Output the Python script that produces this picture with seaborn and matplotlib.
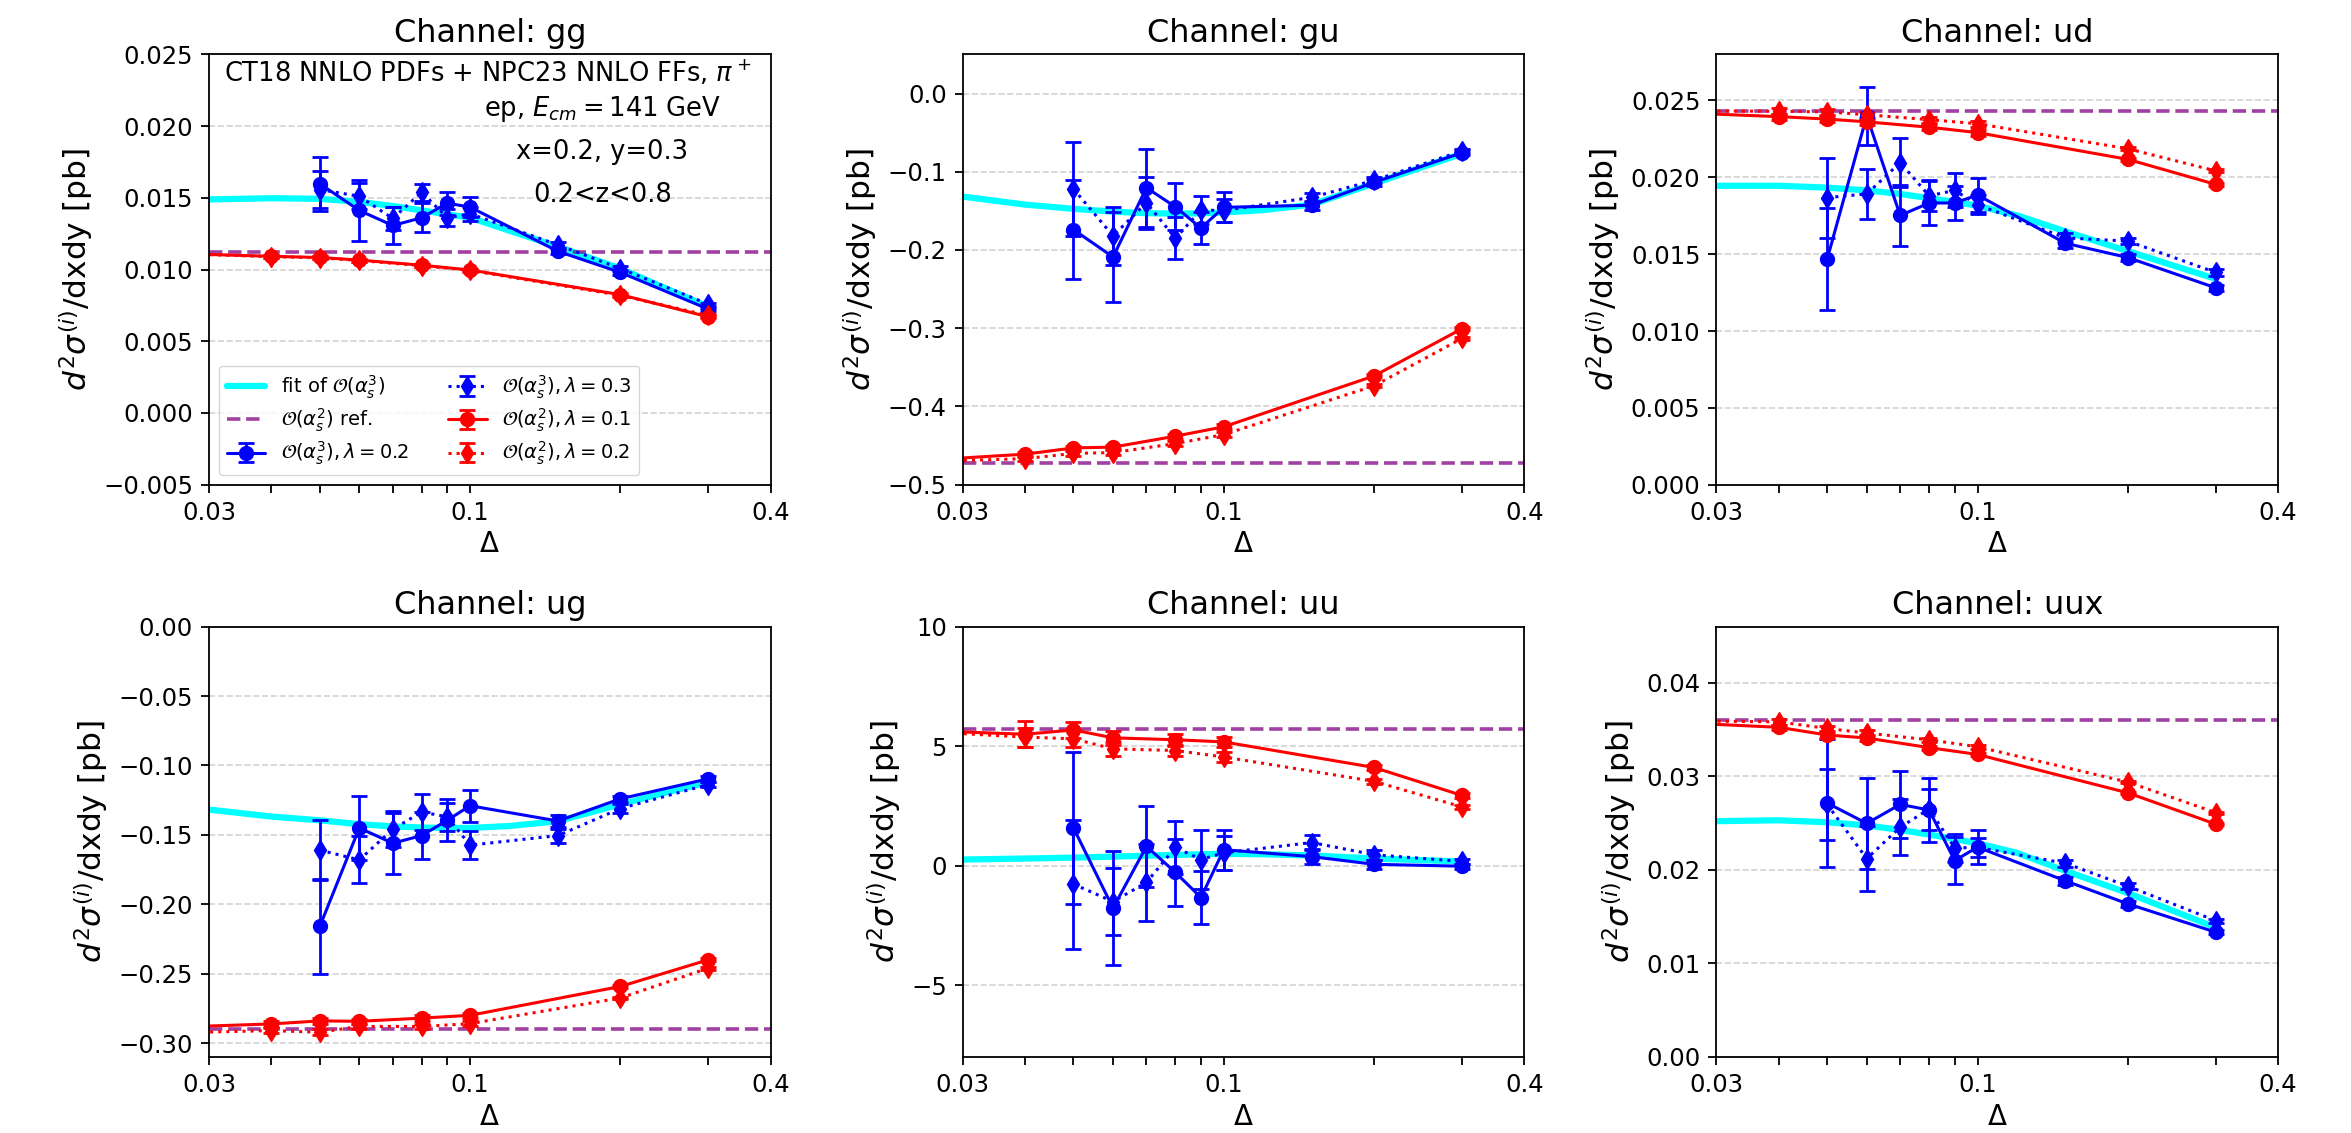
import matplotlib
matplotlib.use('Agg')
import matplotlib.pyplot as plt
from matplotlib.ticker import FixedLocator, FixedFormatter, LogLocator, NullFormatter, MultipleLocator
import seaborn as sns

sns.set_style('ticks')
plt.rcParams['font.family'] = 'DejaVu Sans'
plt.rcParams['mathtext.fontset'] = 'dejavusans'
plt.rcParams['axes.edgecolor'] = 'black'
plt.rcParams['axes.linewidth'] = 1.3
plt.rcParams['xtick.color'] = 'black'
plt.rcParams['ytick.color'] = 'black'
plt.rcParams['text.color'] = 'black'
plt.rcParams['axes.labelcolor'] = 'black'

channels = ['gg', 'gu', 'ud', 'ug', 'uu', 'uux']

# slicing parameter values
delta_nlo = [0.05, 0.06, 0.07, 0.08, 0.09, 0.1, 0.15, 0.2, 0.3]
delta_lo = [0.02, 0.04, 0.05, 0.06, 0.08, 0.1, 0.2, 0.3]
delta_fit = [0.03, 0.04, 0.05, 0.06, 0.07, 0.08, 0.09, 0.1, 0.12, 0.15, 0.2, 0.25, 0.3]

# O(as^2) reference per channel
ref = {'gg': 0.01123, 'gu': -0.4726, 'ud': 0.02433, 'ug': -0.2898, 'uu': 5.73, 'uux': 0.0360}

# O(as^3), lambda = 0.2
a3_l02 = {
    'gg': [0.01598, 0.01412, 0.01307, 0.01361, 0.01463, 0.01435, 0.01127, 0.0098, 0.00724],
    'gu': [-0.174, -0.209, -0.1204, -0.145, -0.172, -0.1455, -0.1428, -0.1136, -0.0757],
    'ud': [0.01469, 0.0240, 0.01752, 0.01833, 0.01833, 0.01885, 0.01571, 0.01478, 0.01281],
    'ug': [-0.216, -0.145, -0.156, -0.1505, -0.1395, -0.129, -0.140, -0.124, -0.1096],
    'uu': [1.58, -1.77, 0.81, -0.28, -1.33, 0.67, 0.38, 0.06, -0.02],
    'uux': [0.02714, 0.02497, 0.0270, 0.0264, 0.0210, 0.02243, 0.01883, 0.01637, 0.01334],
}
a3_l02_err = {
    'gg': [0.0019, 0.0021, 0.0013, 0.0010, 0.0008, 0.0007, 0.0002, 0.0002, 0.0001],
    'gu': [0.063, 0.058, 0.050, 0.030, 0.021, 0.019, 0.006, 0.004, 0.003],
    'ud': [0.0033, 0.0019, 0.0020, 0.0014, 0.0011, 0.0011, 0.0003, 0.0002, 0.0002],
    'ug': [0.034, 0.023, 0.022, 0.017, 0.015, 0.0115, 0.004, 0.002, 0.002],
    'uu': [3.17, 2.4, 1.7, 1.4, 1.1, 0.84, 0.3, 0.2, 0.1],
    'uux': [0.0068, 0.0049, 0.0036, 0.0034, 0.0025, 0.0018, 0.0004, 0.0003, 0.0002],
}

# O(as^3), lambda = 0.3
a3_l03 = {
    'gg': [0.01557, 0.01511, 0.01356, 0.01539, 0.01361, 0.01389, 0.01172, 0.01007, 0.00759],
    'gu': [-0.122, -0.182, -0.1396, -0.185, -0.149, -0.1496, -0.1328, -0.111, -0.0734],
    'ud': [0.01868, 0.01892, 0.02096, 0.0188, 0.01915, 0.01822, 0.01606, 0.01585, 0.01381],
    'ug': [-0.161, -0.168, -0.146, -0.1335, -0.137, -0.1574, -0.1505, -0.131, -0.1137],
    'uu': [-0.77, -1.5, -0.70, 0.77, 0.26, 0.54, 0.97, 0.46, 0.18],
    'uux': [0.0270, 0.0212, 0.02456, 0.0265, 0.02235, 0.0224, 0.02071, 0.01826, 0.01457],
}
a3_l03_err = {
    'gg': [0.0013, 0.0009, 0.0008, 0.0006, 0.0006, 0.0005, 0.0002, 0.0002, 0.0001],
    'gu': [0.060, 0.037, 0.033, 0.027, 0.018, 0.015, 0.006, 0.004, 0.003],
    'ud': [0.0026, 0.0016, 0.0016, 0.0010, 0.0011, 0.0006, 0.0003, 0.0002, 0.0002],
    'ug': [0.0215, 0.017, 0.013, 0.013, 0.010, 0.010, 0.005, 0.003, 0.002],
    'uu': [2.7, 1.4, 1.6, 1.12, 1.23, 0.7, 0.3, 0.2, 0.1],
    'uux': [0.0038, 0.0035, 0.0030, 0.0022, 0.0015, 0.0010, 0.0004, 0.0003, 0.0002],
}

# O(as^2), lambda = 0.1
a2_l01 = {
    'gg': [0.01123, 0.01092, 0.01084, 0.01066, 0.01030, 0.00997, 0.00825, 0.0067],
    'gu': [-0.4726, -0.461, -0.453, -0.452, -0.438, -0.426, -0.361, -0.3006],
    'ud': [0.02433, 0.02395, 0.02379, 0.02361, 0.02326, 0.02291, 0.02117, 0.01954],
    'ug': [-0.2898, -0.2862, -0.284, -0.2843, -0.282, -0.280, -0.2592, -0.240],
    'uu': [5.73, 5.50, 5.68, 5.35, 5.27, 5.18, 4.11, 2.94],
    'uux': [0.0360, 0.03524, 0.03442, 0.0341, 0.03307, 0.03234, 0.02824, 0.02489],
}
a2_l01_err = {
    'gg': [0.0, 0.0001, 0.0001, 0.0001, 0.0001, 0.0001, 0.0001, 0.0001],
    'gu': [0.0, 0.003, 0.003, 0.003, 0.003, 0.003, 0.002, 0.002],
    'ud': [0.0, 0.0002, 0.0002, 0.0002, 0.0002, 0.0002, 0.0001, 0.0001],
    'ug': [0.0, 0.002, 0.002, 0.002, 0.002, 0.002, 0.001, 0.001],
    'uu': [0.0, 0.55, 0.35, 0.3, 0.25, 0.2, 0.1, 0.1],
    'uux': [0.0, 0.0003, 0.0003, 0.0003, 0.0002, 0.0002, 0.0001, 0.0001],
}

# O(as^2), lambda = 0.2
a2_l02 = {
    'gg': [0.01123, 0.01090, 0.01082, 0.01063, 0.01027, 0.00994, 0.00820, 0.0068],
    'gu': [-0.4726, -0.4667, -0.460, -0.459, -0.4475, -0.436, -0.3736, -0.313],
    'ud': [0.02433, 0.0243, 0.02426, 0.02407, 0.02375, 0.02349, 0.02186, 0.02042],
    'ug': [-0.2935, -0.291, -0.2922, -0.288, -0.288, -0.286, -0.2675, -0.246],
    'uu': [5.73, 5.38, 5.31, 4.89, 4.82, 4.55, 3.53, 2.46],
    'uux': [0.0360, 0.03582, 0.03512, 0.03463, 0.0339, 0.03316, 0.02939, 0.02612],
}
a2_l02_err = {
    'gg': [0.0, 0.0001, 0.0001, 0.0001, 0.0001, 0.0001, 0.0001, 0.0001],
    'gu': [0.0, 0.003, 0.003, 0.003, 0.003, 0.003, 0.002, 0.002],
    'ud': [0.0, 0.0002, 0.0002, 0.0002, 0.0002, 0.0002, 0.0001, 0.0001],
    'ug': [0.0, 0.002, 0.002, 0.002, 0.002, 0.002, 0.001, 0.001],
    'uu': [0.0, 0.4, 0.35, 0.3, 0.25, 0.2, 0.1, 0.1],
    'uux': [0.0, 0.0003, 0.0003, 0.0003, 0.0002, 0.0002, 0.0001, 0.0001],
}

# fit of O(as^3)
fit = {
    'gg': [0.01489, 0.01497, 0.01493, 0.01472, 0.01443, 0.01412, 0.01385, 0.01362, 0.0127, 0.0116, 0.01007, 0.0086, 0.0074],
    'gu': [-0.1318, -0.142, -0.1474, -0.151, -0.153, -0.1535, -0.1532, -0.152, -0.149, -0.142, -0.115, -0.094, -0.077],
    'ud': [0.01945, 0.01945, 0.01933, 0.01915, 0.01892, 0.01864, 0.0184, 0.01815, 0.01752, 0.01648, 0.0152, 0.0142, 0.01339],
    'ug': [-0.1318, -0.1368, -0.1395, -0.1423, -0.1439, -0.1447, -0.145, -0.145, -0.1436, -0.1401, -0.128, -0.119, -0.112],
    'uu': [0.26, 0.30, 0.34, 0.38, 0.42, 0.45, 0.48, 0.50, 0.48, 0.43, 0.30, 0.23, 0.18],
    'uux': [0.02521, 0.0253, 0.02509, 0.02476, 0.02427, 0.02378, 0.0233, 0.02284, 0.02182, 0.01989, 0.01752, 0.0155, 0.01384],
}

ylims = {'gg': (-0.005, 0.025), 'gu': (-0.5, 0.05), 'ud': (0.0, 0.028),
         'ug': (-0.31, 0.0), 'uu': (-8, 10), 'uux': (0.0, 0.046)}
ysteps = {'gg': 0.005, 'gu': 0.1, 'ud': 0.005, 'ug': 0.05, 'uu': 5, 'uux': 0.01}

fig, axes = plt.subplots(2, 3, figsize=(23.51, 11.33), dpi=100)
plt.subplots_adjust(left=0.0889, right=0.969, top=0.952, bottom=0.0671,
                    wspace=0.342, hspace=0.33)

eb_kw = dict(ms=10, lw=2.2, elinewidth=2, capsize=6, capthick=2)

for ax, ch in zip(axes.flat, channels):
    sns.lineplot(x=delta_fit, y=fit[ch], ax=ax, color='cyan', lw=4.5,
                 label=r'fit of $\mathcal{O}(\alpha_s^3)$', zorder=1)
    ax.axhline(ref[ch], color='purple', ls='--', lw=2.6, alpha=0.75,
               label=r'$\mathcal{O}(\alpha_s^2)$ ref.')
    ax.errorbar(delta_nlo, a3_l02[ch], yerr=a3_l02_err[ch], fmt='o-', color='blue',
                label=r'$\mathcal{O}(\alpha_s^3), \lambda=0.2$', **eb_kw)
    ax.errorbar(delta_nlo, a3_l03[ch], yerr=a3_l03_err[ch], fmt='d:', color='blue',
                label=r'$\mathcal{O}(\alpha_s^3), \lambda=0.3$', **eb_kw)
    ax.errorbar(delta_lo, a2_l01[ch], yerr=a2_l01_err[ch], fmt='o-', color='red',
                label=r'$\mathcal{O}(\alpha_s^2), \lambda=0.1$', **eb_kw)
    ax.errorbar(delta_lo, a2_l02[ch], yerr=a2_l02_err[ch], fmt='d:', color='red',
                label=r'$\mathcal{O}(\alpha_s^2), \lambda=0.2$', **eb_kw)

    ax.set_xscale('log')
    ax.set_xlim(0.03, 0.4)
    ax.xaxis.set_major_locator(FixedLocator([0.03, 0.1, 0.4]))
    ax.xaxis.set_major_formatter(FixedFormatter(['0.03', '0.1', '0.4']))
    ax.xaxis.set_minor_locator(LogLocator(base=10, subs=range(2, 10)))
    ax.xaxis.set_minor_formatter(NullFormatter())
    ax.set_ylim(*ylims[ch])
    ax.yaxis.set_major_locator(MultipleLocator(ysteps[ch]))
    ax.tick_params(axis='both', which='both', length=5.5, width=1.3,
                   labelsize=17.5, pad=6, direction='out')
    ax.grid(axis='y', which='major', ls='--', color='lightgray', lw=1.2)
    ax.set_axisbelow(True)

    ax.set_title(f'Channel: {ch}', fontsize=23, pad=9)
    ax.set_xlabel(r'$\Delta$', fontsize=20)
    ax.set_ylabel(r'$d^2\sigma^{(i)}$/dxdy [pb]', fontsize=22.5, labelpad=6)
    if ax.get_legend() is not None:
        ax.get_legend().remove()

ax0 = axes[0, 0]
handles, labels = ax0.get_legend_handles_labels()
ax0.legend(handles, labels, loc='lower left', ncol=2, fontsize=14, labelspacing=0.3)

ax0.text(0.496, 0.957, r'CT18 NNLO PDFs + NPC23 NNLO FFs, $\pi^+$', transform=ax0.transAxes,
         ha='center', va='center', fontsize=18.5)
ax0.text(0.70, 0.872, r'ep, $E_{cm}=141$ GeV', transform=ax0.transAxes,
         ha='center', va='center', fontsize=18.5)
ax0.text(0.70, 0.774, 'x=0.2, y=0.3', transform=ax0.transAxes,
         ha='center', va='center', fontsize=18.5)
ax0.text(0.70, 0.674, '0.2<z<0.8', transform=ax0.transAxes,
         ha='center', va='center', fontsize=18.5)

fig.savefig('out.png', dpi=100)
plt.close(fig)
